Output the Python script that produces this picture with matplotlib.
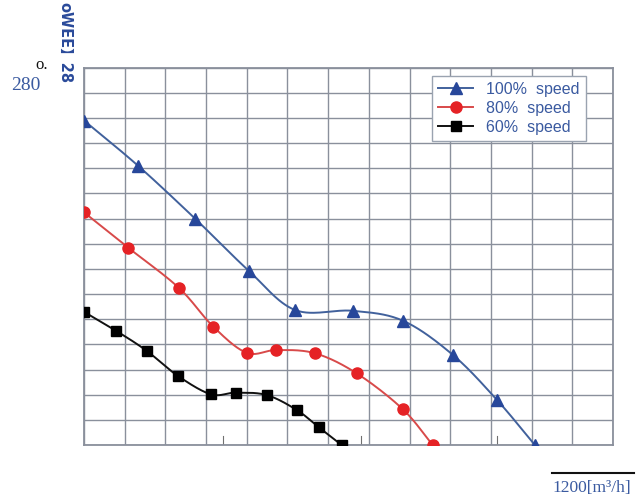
import numpy as np
import matplotlib
matplotlib.use("Agg")
import matplotlib.pyplot as plt
from matplotlib.lines import Line2D

# Data (airflow m3/h, static pressure Pa)
flow_100 = [0, 133, 273, 405, 519, 660, 784, 907, 1015, 1108]
pres_100 = [258, 222, 180, 138.5, 107.3, 106.7, 98.8, 71.5, 35.8, 0]
flow_80 = [0, 109, 233, 318, 400, 473, 568, 670, 783, 857]
pres_80 = [185, 156.8, 125, 94, 73.3, 75.5, 72.9, 57, 28.6, 0]
flow_60 = [0, 79, 154, 230, 312, 373, 449, 523, 577, 633]
pres_60 = [105.9, 90.8, 74.9, 55.1, 40.3, 41.6, 39.7, 27.8, 14.1, 0]
labels = ["100%  speed", "80%  speed", "60%  speed"]


def catmull_rom(xs, ys, n=30):
    P = np.column_stack([xs, ys]).astype(float)
    P = np.vstack([2 * P[0] - P[1], P, 2 * P[-1] - P[-2]])
    out = []
    for i in range(1, len(P) - 2):
        p0, p1, p2, p3 = P[i - 1], P[i], P[i + 1], P[i + 2]
        t = np.linspace(0, 1, n, endpoint=False)[:, None]
        seg = 0.5 * ((2 * p1) + (-p0 + p2) * t + (2 * p0 - 5 * p1 + 4 * p2 - p3) * t ** 2
                     + (-p0 + 3 * p1 - 3 * p2 + p3) * t ** 3)
        out.append(seg)
    out.append(P[-2][None, :])
    out = np.vstack(out)
    return out[:, 0], out[:, 1]


fig = plt.figure(figsize=(6.41, 5.01), dpi=100)
ax = fig.add_axes([0.131, 0.1118, 0.8253, 0.7531])

ax.set_xlim(0, 1300)
ax.set_ylim(0, 300)
ax.set_xticks(np.arange(0, 1301, 100))
ax.set_yticks(np.arange(0, 301, 20))
ax.grid(True, color="#8a909c", lw=1.0)
ax.tick_params(left=False, bottom=False, labelleft=False, labelbottom=False)
for s in ax.spines.values():
    s.set_color("#8a909c")
    s.set_linewidth(1.3)
ax.set_axisbelow(True)

# small inner marks on bottom
for xm in [341, 680, 1015]:
    ax.plot([xm, xm], [0, 7], color="#707070", lw=0.8, zorder=2)

series = [
    (flow_100, pres_100, "#41619c", "#27479a", "^", 8),
    (flow_80, pres_80, "#d84a4a", "#e52225", "o", 8),
    (flow_60, pres_60, "#111111", "#000000", "s", 6.5),
]
handles = []
for (xs, ys, lc, mc, mk, ms), lab in zip(series, labels):
    sx, sy = catmull_rom(xs, ys)
    ax.plot(sx, sy, color=lc, lw=1.4, zorder=3)
    ax.plot(xs, ys, ls="none", marker=mk, ms=ms, color=mc, mec=mc, zorder=4)
    handles.append(Line2D([0], [0], color=lc, lw=1.4, marker=mk, ms=ms,
                          markerfacecolor=mc, markeredgecolor=mc, label=lab))

leg = ax.legend(handles=handles, loc="upper right", bbox_to_anchor=(0.949, 0.979),
                borderaxespad=0, frameon=True, fancybox=False, edgecolor="#9aa3b0",
                framealpha=1, prop={"family": "Liberation Sans", "size": 11.5},
                handlelength=2.2, borderpad=0.4, labelspacing=0.25, handletextpad=0.8)
for t in leg.get_texts():
    t.set_color("#3a5aa0")

# annotations
fig.text(25.5 / 641, 1 - 85 / 501, "280", color="#3a5aa0", fontsize=14,
         family="Liberation Serif", ha="center", va="center")
fig.text(41.5 / 641, 1 - 65 / 501, "o.", color="#111111", fontsize=12,
         family="Liberation Serif", ha="center", va="center")
fig.text(65 / 641, 1 - 43 / 501, "oWEE\u301128",
         color="#2a4a9a", fontsize=10.5, fontweight="bold", rotation=-90,
         family=["DejaVu Sans", "Noto Sans CJK SC"], ha="center", va="center")
fig.text(592 / 641, 1 - 488 / 501, "1200[m\u00b3/h]", color="#3a5aa0", fontsize=12.5,
         family="Liberation Serif", ha="center", va="center")
fig.add_artist(Line2D([552 / 641, 634 / 641], [1 - 473 / 501, 1 - 473 / 501],
                      color="#111111", lw=1.5, transform=fig.transFigure))

fig.savefig("out.png", dpi=100)
